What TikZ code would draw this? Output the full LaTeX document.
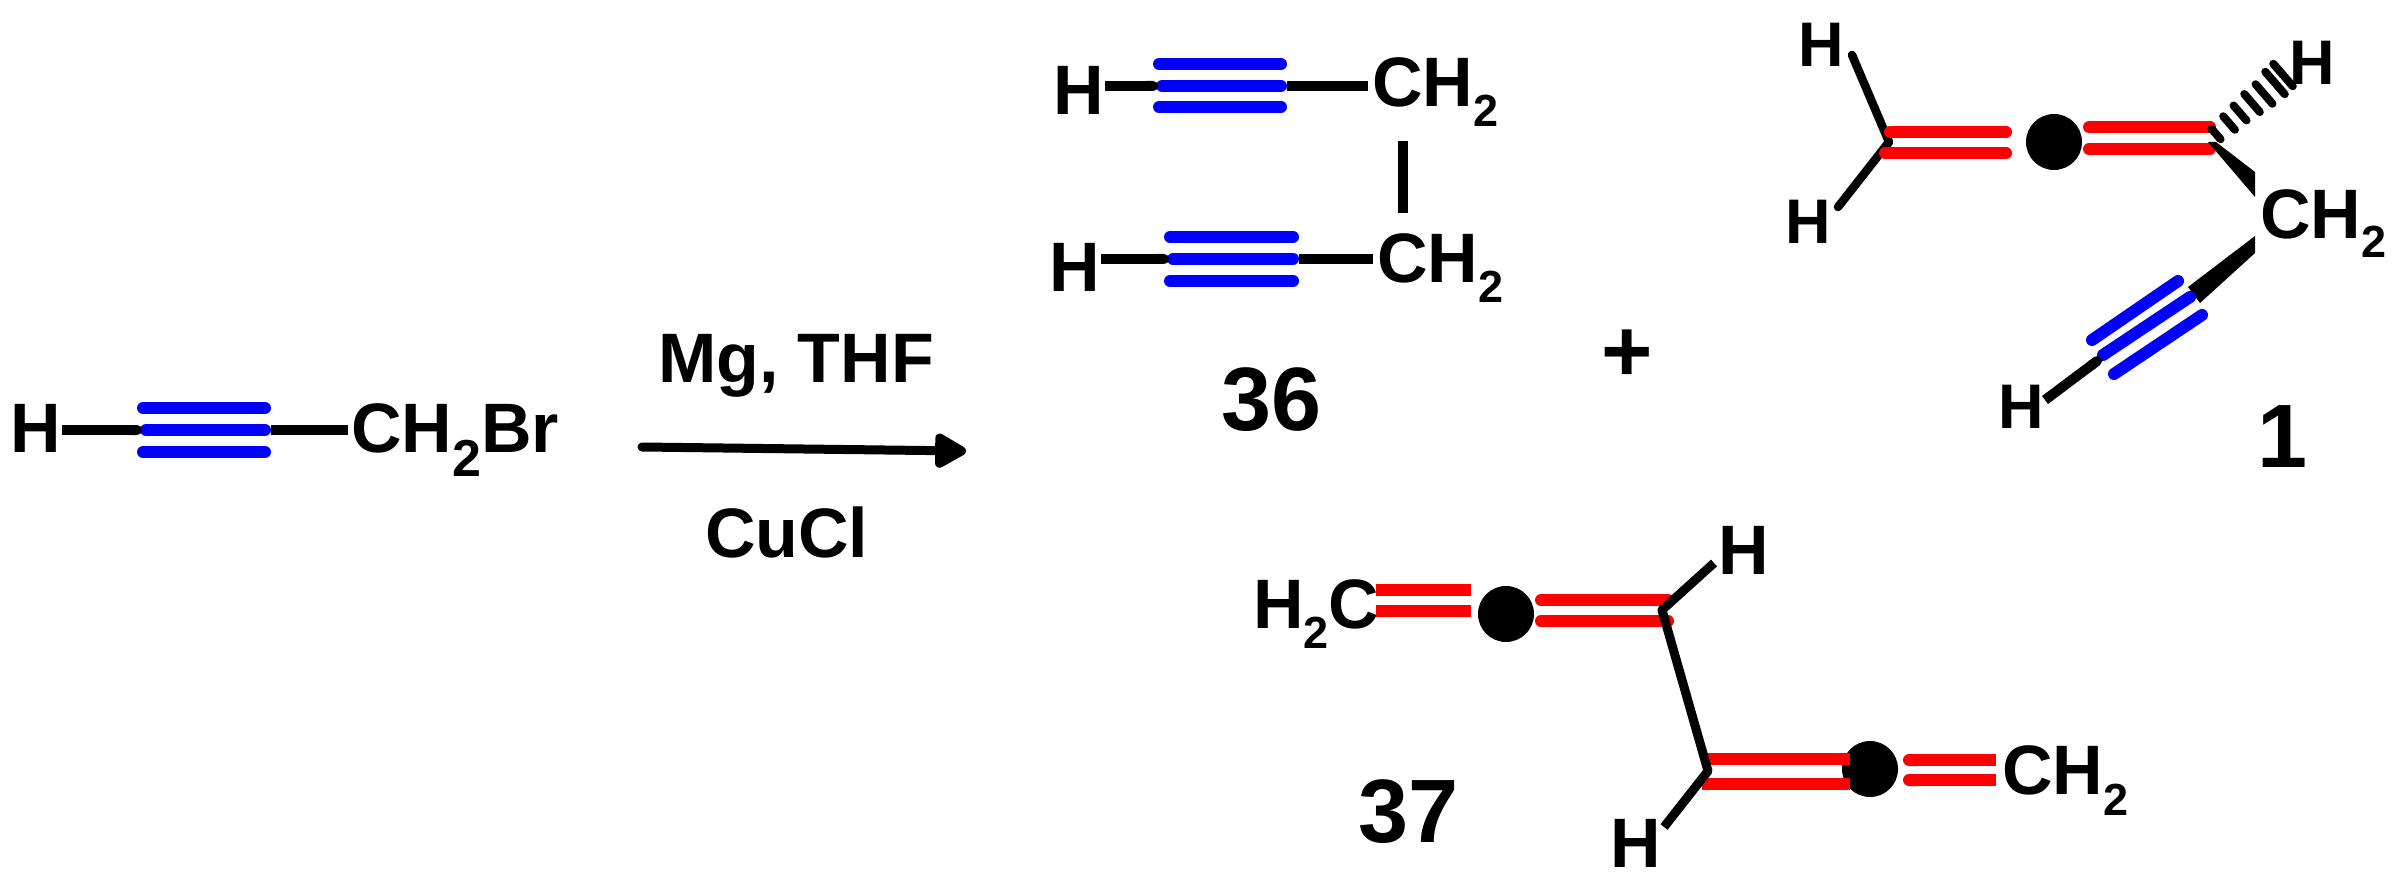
\documentclass[tikz,border=0pt]{standalone}
\usepackage{fontspec}
\setmainfont{Liberation Sans}
\usetikzlibrary{arrows.meta,calc}
\newcommand\chemsub[2][20]{\raisebox{-#1pt}{\fontsize{#2}{#2}\selectfont 2}}
\tikzset{
  lab/.style={inner sep=0pt,outer sep=0pt,anchor=base west,font=\bfseries\fontsize{70}{84}\selectfont},
  labs/.style={inner sep=0pt,outer sep=0pt,anchor=base west,font=\bfseries\fontsize{63}{76}\selectfont},
  num/.style={inner sep=0pt,outer sep=0pt,anchor=base west,font=\bfseries\fontsize{90}{108}\selectfont},
  bond/.style={line width=10pt,black},
  thin bond/.style={line width=8.5pt,black,line cap=round},
  tb/.style={line width=12pt,blue,line cap=round},
  db/.style={line width=12pt,red,line cap=round},
  dbl/.style={line width=12pt,red},
  dot/.style={circle,fill=black,inner sep=0pt,minimum size=56pt},
  hash/.style={line width=8pt,black,line cap=round},
}
\begin{document}
\begin{tikzpicture}[x=1pt,y=-1pt]
\useasboundingbox (0,0) rectangle (2403,885);
% ---- reactant
\node[lab] (rH) at (10,452) {H};
\node[lab] (rC) at (351,452) {CH\chemsub[24]{52}Br};
\coordinate (r1) at (62,430); \coordinate (r2) at (348,430);
\coordinate (ra) at (271,430);
\draw[tb] (143,408) -- (265,408);
\draw[tb] (146,430) -- (265,430);
\draw[tb] (143,452) -- (265,452);
\draw[bond,{}-{Round Cap[]}] (r1) -- (142,430);
\draw[bond] (ra) -- (r2);
% ---- reaction arrow
\node[lab] (mg) at (658,382) {Mg, THF};
\node[lab] (cu) at (705,557) {CuCl};
\coordinate (a1) at (642,447); \coordinate (a2) at (966,451);
\draw[line width=9pt,line cap=round,-{Triangle[length=36pt,width=38pt,round]}] (a1) -- (a2);
% ---- 36
\node[lab] (aH) at (1053,115) {H};
\node[lab] (aC) at (1372,107) {CH\chemsub{45}};
\node[lab] (bH) at (1049,291) {H};
\node[lab] (bC) at (1377,283) {CH\chemsub{45}};
\node[num] (n36) at (1221,430) {36};
\node[font=\bfseries\fontsize{88}{100}\selectfont,inner sep=0pt,anchor=base west] (plus) at (1601,381) {+};
\coordinate (a3) at (1105,86); \coordinate (a4) at (1368,86);
\coordinate (b3) at (1101,259); \coordinate (b4) at (1373,259);
\draw[tb] (1159,64) -- (1281,64);
\draw[tb] (1162,86) -- (1281,86);
\draw[tb] (1159,107) -- (1281,107);
\draw[bond,{}-{Round Cap[]}] (a3) -- (1158,86);
\draw[bond] (1287,86) -- (a4);
\draw[tb] (1170,237) -- (1293,237);
\draw[tb] (1173,259) -- (1293,259);
\draw[tb] (1170,281) -- (1293,281);
\draw[bond,{}-{Round Cap[]}] (b3) -- (1169,259);
\draw[bond] (1299,259) -- (b4);
\coordinate (v1) at (1403,141); \coordinate (v2) at (1403,213);
\draw[bond] (v1) -- (v2);
% ---- 1
\node[labs] (cH1) at (1798,67) {H};
\node[labs] (cH2) at (1785,244) {H};
\node[labs] (cH3) at (2289,85) {H};
\node[labs] (cH4) at (1998,428) {H};
\node[lab] (cC) at (2260,239) {CH\chemsub[19]{45}};
\node[num] (n1) at (2257,467) {1};
\coordinate (c0) at (1889,142);
\coordinate (c1) at (1852,55); \coordinate (c2) at (1838,207);
\draw[thin bond] (c1) -- (c0);
\draw[thin bond] (c2) -- (c0);
\node[dot] (d1) at (2054,142) {};
\draw[db] (1890,132) -- (2006,132);
\draw[db] (1885,153) -- (2006,153);
\draw[db] (2089,127) -- (2210,127);
\draw[db] (2089,149) -- (2210,149);
\coordinate (hA) at (2216,134);
\foreach \mx/\my/\h in {2216/134/7, 2229/123/9, 2240/113/10, 2252/103/12, 2264/94/13, 2275/83/15, 2283/75/15}
  \draw[hash] ($(\mx,\my)+(-.65*\h,-.75*\h)$) -- ($(\mx,\my)+(.65*\h,.75*\h)$);
\fill (2216,142) -- (2255,172) -- (2255,197) -- (2208,142) -- cycle;
\fill (2255,236) -- (2255,253) -- (2200,303) -- (2188,287) -- cycle;
\draw[tb] (2178,281) -- (2092,340);
\draw[tb] (2190,297) -- (2103,355);
\draw[tb] (2202,315) -- (2114,374);
\coordinate (c3) at (2101,358); \coordinate (c4) at (2045,400);
\draw[bond,{Round Cap[]}-{}] (c3) -- (c4);
% ---- 37
\node[lab] (dH2C) at (1253,628) {H\chemsub{45}C};
\node[lab] (dH1) at (1718,574) {H};
\node[lab] (dH2) at (1610,867) {H};
\node[lab] (dC) at (2002,794) {CH\chemsub[21]{45}};
\node[num] (n37) at (1358,842) {37};
\node[dot] (e1) at (1506,614) {};
\node[dot] (e2) at (1870,769) {};
\draw[dbl] (1376,590) -- (1471,590);
\draw[dbl] (1376,611) -- (1471,611);
\draw[db] (1541,600) -- (1668,600);
\draw[db] (1541,621) -- (1668,621);
\draw[dbl] (1706,759) -- (1850,759);
\draw[dbl] (1702,784) -- (1850,784);
\draw[dbl,{Round Cap[]}-{}] (1903,760) -- (1996,760);
\draw[dbl,{Round Cap[]}-{}] (1903,780) -- (1996,780);
\coordinate (e3) at (1662,610); \coordinate (e4) at (1708,771);
\coordinate (e5) at (1714,563); \coordinate (e6) at (1664,827);
\draw[line width=9pt,line join=round] (e5) -- (e3) -- (e4) -- (e6);
\end{tikzpicture}
\end{document}
